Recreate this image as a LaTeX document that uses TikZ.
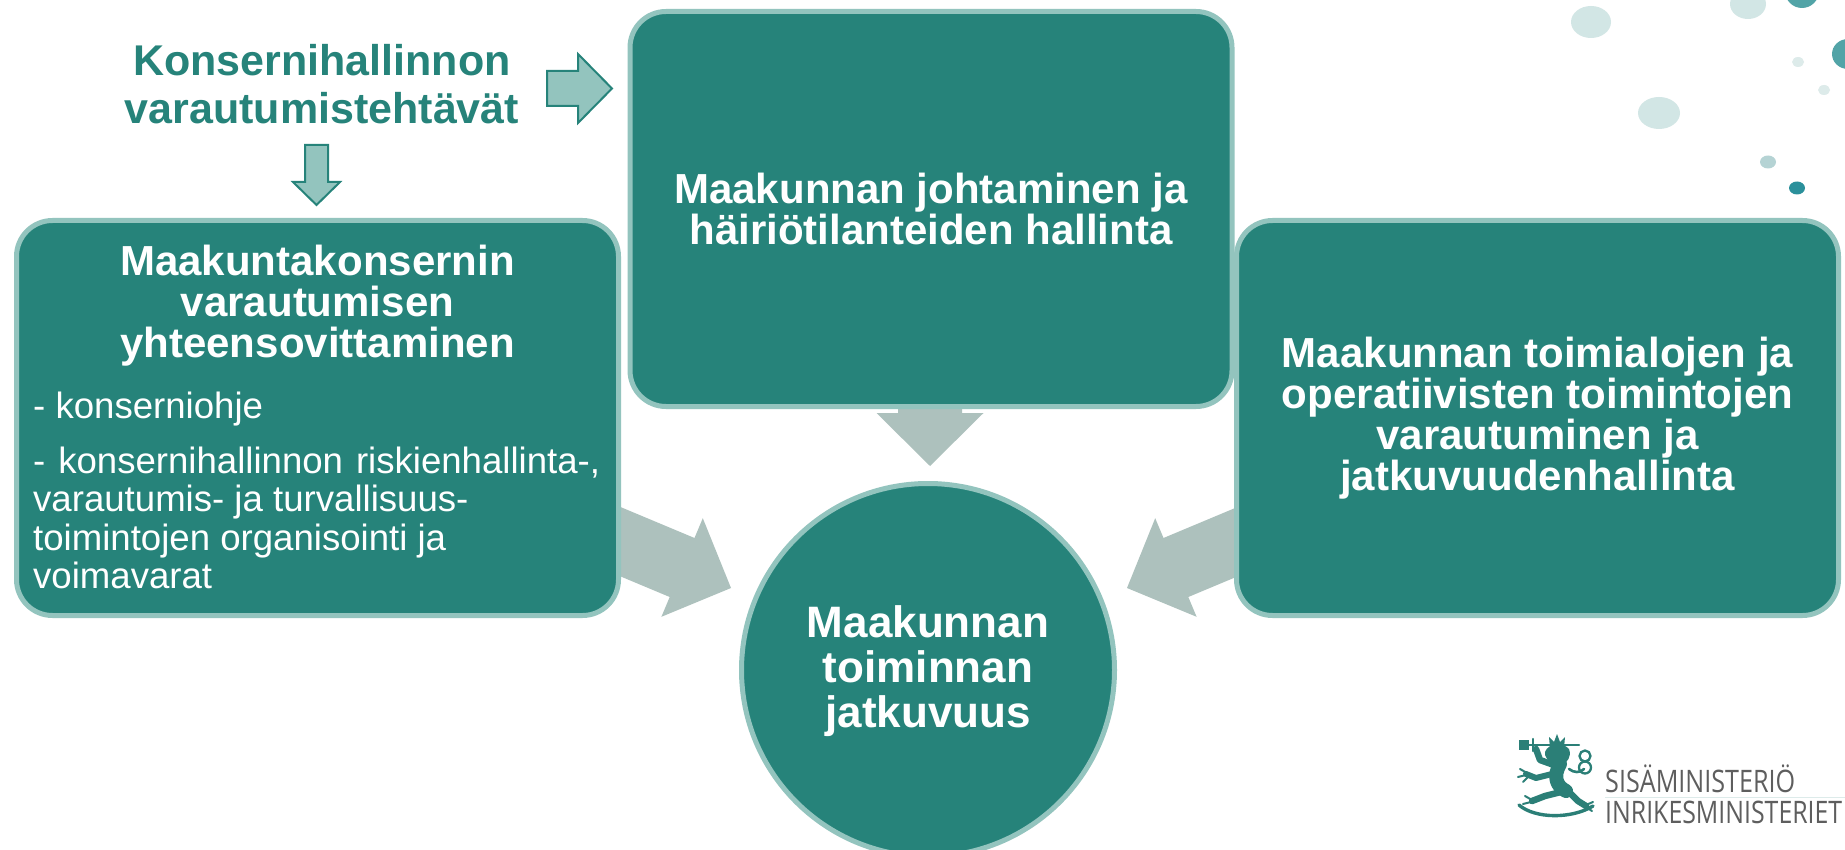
\documentclass[tikz,border=0pt]{standalone}
\usepackage{fontspec}
\setmainfont{Liberation Sans}
\newfontfamily\logofont{Open Sans}
\usepackage{graphicx}
\definecolor{tealfill}{HTML}{26837A}
\definecolor{tealborder}{HTML}{93C4BE}
\definecolor{grayarrow}{HTML}{ADC1BD}
\definecolor{liontea}{HTML}{2B7F77}
\definecolor{logogray}{HTML}{5E5E5E}
\definecolor{dotlight}{HTML}{D2E6E5}
\definecolor{dotpale}{HTML}{DDEBEA}
\definecolor{dotmid}{HTML}{B5D3D4}
\definecolor{dotteal}{HTML}{52A4A7}
\definecolor{dotdark}{HTML}{2B909B}
\begin{document}
\begin{tikzpicture}[x=1pt,y=-1pt,
  box/.style={rectangle, rounded corners=36pt, fill=tealfill, draw=tealborder, line width=5pt,
              minimum width=602pt, minimum height=395pt, inner sep=0pt},
  circ/.style={circle, fill=tealfill, draw=tealborder, line width=5pt, minimum size=373pt, inner sep=0pt},
  headtxt/.style={text=white, font=\fontsize{42}{41}\selectfont\bfseries, align=center, inner sep=0pt},
  circtxt/.style={text=white, font=\fontsize{44}{45}\selectfont\bfseries, align=center, inner sep=0pt},
  bullettxt/.style={text=white, font=\fontsize{36.6}{38.5}\selectfont, align=left, inner sep=0pt},
  titletxt/.style={text=tealfill, font=\fontsize{43}{48}\selectfont\bfseries, align=center, inner sep=0pt},
  outlinearrow/.style={fill=tealborder, draw=tealfill, line width=2pt, line join=miter},
  grayblock/.style={fill=grayarrow},
  lion/.style={liontea, line cap=round, line join=round},
  logotxt/.style={text=logogray, font=\logofont\fontsize{31}{31}\selectfont, inner sep=0pt}
]
\useasboundingbox (0,0) rectangle (1845,850);
\clip (0,0) rectangle (1845,850);
\fill[white] (0,0) rectangle (1845,850);

% decorative dots
\fill[dotlight] (1591,22) ellipse [x radius=20, y radius=16];
\fill[dotlight] (1748,4) ellipse [x radius=18, y radius=15];
\fill[dotteal] (1802,-9) circle [radius=17];
\fill[dotteal] (1848,54) ellipse [x radius=16, y radius=15];
\fill[dotpale] (1798,62) ellipse [x radius=6, y radius=5];
\fill[dotpale] (1824,90) ellipse [x radius=6, y radius=5];
\fill[dotlight] (1659,113) ellipse [x radius=21, y radius=16];
\fill[dotmid] (1768,162) ellipse [x radius=8, y radius=6.5];
\fill[dotdark] (1797,188) ellipse [x radius=8, y radius=6.5];

% gray block arrows (behind the boxes)
\fill[grayblock] (583.9,491.7) -- (694.5,538.0) -- (702.8,518.2) -- (731,588) -- (661.4,616.8) -- (669.7,597.0) -- (559.1,550.7) -- cycle;
\fill[grayblock] (1274.1,491.7) -- (1163.5,538.0) -- (1155.2,518.2) -- (1127,588) -- (1196.6,616.8) -- (1188.3,597.0) -- (1298.9,550.7) -- cycle;
\fill[grayblock] (898,350) -- (898,413) -- (876.5,413) -- (930,466) -- (983.5,413) -- (962,413) -- (962,350) -- cycle;

% boxes
\node[box] (lb) at (317.5,418) {};
\node[box] (tb) at (931,209) {};
\node[box] (rb) at (1537.5,418) {};
\node[circ] (c) at (928,670) {};

% texts
\node[titletxt, anchor=north] (title) at (322,44) {Konsernihallinnon\\varautumistehtävät};
\node[headtxt, anchor=north] (lbhead) at (317.5,245) {Maakuntakonsernin\\varautumisen\\yhteensovittaminen};
\node[bullettxt, anchor=base west] (lbb1) at (33,418) {- konserniohje};
\node[bullettxt, anchor=north west] (lbb2) at (33,446.5) {\makebox[567pt][s]{- konsernihallinnon riskienhallinta-,}\\varautumis- ja turvallisuus-\\toimintojen organisointi ja\\voimavarat};
\node[headtxt] (tbtxt) at (931,209) {Maakunnan johtaminen ja\\häiriötilanteiden hallinta};
\node[headtxt] (rbtxt) at (1537.5,418) {Maakunnan toimialojen ja\\operatiivisten toimintojen\\varautuminen ja\\jatkuvuudenhallinta};
\node[circtxt] (ctxt) at (928,671) {Maakunnan\\toiminnan\\jatkuvuus};

% outlined arrows from the title
\draw[outlinearrow] (547,71) -- (578,71) -- (578,54) -- (612,88.5) -- (578,123) -- (578,106) -- (547,106) -- cycle;
\draw[outlinearrow] (305,145) -- (328,145) -- (328,182) -- (340,182) -- (316.5,205) -- (293,182) -- (305,182) -- cycle;

% logo: lion emblem
\begin{scope}[lion]
  \draw[line width=2.4pt] (1522,745) -- (1579,745);
  \fill (1519,740) rectangle (1529,750);
  \draw[line width=2.4pt] (1533,739) -- (1533,751);
  \fill (1550,748) -- (1549,737) -- (1554,742) -- (1557,734) -- (1560,742) -- (1565,737) -- (1564,748) -- cycle;
  \fill (1545,752) .. controls (1548,743) and (1563,742) .. (1569,749) .. controls (1572,757) and (1567,763) .. (1561,765) -- (1551,763) .. controls (1548,760) and (1544,756) .. cycle;
  \draw[line width=6.5pt] (1554,765) -- (1540,760) -- (1536,749);
  \draw[line width=14pt] (1560,764) .. controls (1553,776) and (1556,786) .. (1566,791);
  \draw[line width=6pt] (1552,774) -- (1536,778) -- (1526,774);
  \draw[line width=2pt] (1527,773) -- (1520,769) (1526,775) -- (1518,777) (1528,777) -- (1523,782);
  \draw[line width=6.5pt] (1561,792) -- (1545,796) -- (1532,801);
  \draw[line width=2pt] (1532,800) -- (1525,796) (1531,802) -- (1523,804);
  \draw[line width=6.5pt] (1569,792) -- (1578,801) -- (1586,806);
  \draw[line width=2pt] (1586,805) -- (1593,802) (1586,807) -- (1592,811);
  \draw[line width=2.6pt] (1569,769) .. controls (1574,773) and (1580,773) .. (1584,769);
  \draw[line width=2.3pt] (1585,756) circle [radius=5.5];
  \draw[line width=2.3pt] (1585,767.5) circle [radius=6];
  \draw[line width=3.4pt] (1519,805) .. controls (1535,819) and (1572,819) .. (1593,806);
\end{scope}

% logo text
\node[logotxt, anchor=base west] (logo1) at (1605,792) {\resizebox{190pt}{\height}{SISÄMINISTERIÖ}};
\node[logotxt, anchor=base west] (logo2) at (1605,823) {\resizebox{237pt}{\height}{INRIKESMINISTERIET}};
\draw[dotpale, line width=1pt] (logo1.south west) ++(0,5) -- ++(240,0);
\end{tikzpicture}
\end{document}
